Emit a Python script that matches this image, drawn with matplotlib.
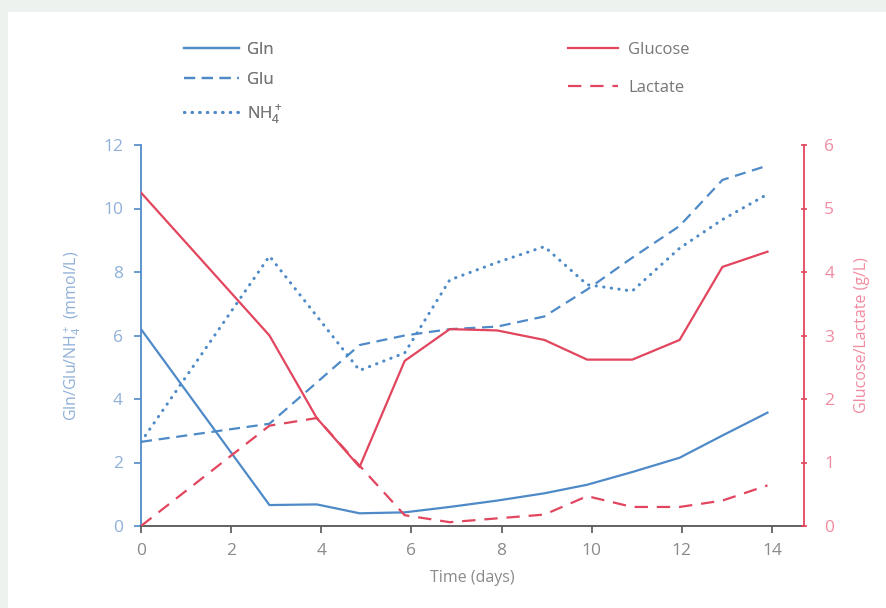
import matplotlib.pyplot as plt
from matplotlib.patches import Rectangle

plt.rcParams['font.family'] = ['Open Sans', 'DejaVu Sans']
plt.rcParams['mathtext.fontset'] = 'custom'
plt.rcParams['mathtext.rm'] = 'Open Sans'

# tempo (dias)
dias = [0, 2.85, 3.9, 4.85, 5.85, 6.85, 7.9, 8.95, 9.9, 10.9, 11.95, 12.9, 13.9]

# eixo esquerdo (mmol/L)
gln = [6.2, 0.66, 0.68, 0.4, 0.43, 0.6, 0.8, 1.03, 1.3, 1.7, 2.15, 2.85, 3.57]
glu = [2.65, 3.22, 4.52, 5.7, 6.0, 6.2, 6.28, 6.6, 7.45, 8.45, 9.45, 10.9, 11.35]
nh4 = [2.65, 8.5, None, 4.9, 5.45, 7.75, 8.3, 8.8, 7.6, 7.4, 8.75, 9.65, 10.45]

# eixo direito (g/L)
glucose = [5.25, 3.0, 1.7, 0.93, 2.6, 3.1, 3.08, 2.93, 2.62, 2.62, 2.93, 4.08, 4.32]
lactato = [0, 1.58, 1.7, 0.95, 0.17, 0.06, 0.12, 0.18, 0.47, 0.3, 0.3, 0.4, 0.64]

xticks = [0, 2, 4, 6, 8, 10, 12, 14]

azul = '#4f8ac8'
vermelho = '#e2455e'
azul_txt = '#8fb0d8'
verm_txt = '#f28ba0'
cinza = '#8a8a8a'

fig = plt.figure(figsize=(8.87, 6.08), dpi=100, facecolor='#eef2ee')
fig.patches.append(Rectangle((8 / 887, 0), 1, 1 - 12 / 608, transform=fig.transFigure,
                             facecolor='white', edgecolor='none', zorder=-5))

ax = fig.add_axes([141 / 887, 1 - 526 / 608, (804 - 141) / 887, (526 - 145) / 608])
ax.set_facecolor('none')
ax2 = ax.twinx()
ax2.set_facecolor('none')

d_nh4 = [d for d, v in zip(dias, nh4) if v is not None]
v_nh4 = [v for v in nh4 if v is not None]

l1, = ax.plot(dias, gln, color=azul, lw=1.6, label='Gln')
l2, = ax.plot(dias, glu, color=azul, lw=1.6, ls=(0, (5, 3)), label='Glu')
l3, = ax.plot(d_nh4, v_nh4, color=azul, lw=2.2, ls=(0, (0.1, 2.4)),
              dash_capstyle='round', label='NH$_4^+$')

l4, = ax2.plot(dias, glucose, color=vermelho, lw=1.6, label='Glucose')
l5, = ax2.plot(dias, lactato, color=vermelho, lw=1.6, ls=(0, (6, 4)), label='Lactate')

ax.set_xlim(0, 14.71)
ax.set_ylim(0, 12)
ax2.set_ylim(0, 6)
ax.set_xticks(xticks)
ax.set_yticks(range(0, 13, 2))
ax2.set_yticks(range(0, 7))

for s in ['top', 'right']:
    ax.spines[s].set_visible(False)
for s in ['top', 'left']:
    ax2.spines[s].set_visible(False)
ax2.spines['bottom'].set_visible(False)
ax.spines['left'].set_color(azul)
ax.spines['bottom'].set_color('#555555')
ax2.spines['right'].set_color(vermelho)
for sp in [ax.spines['left'], ax.spines['bottom'], ax2.spines['right']]:
    sp.set_linewidth(1.3)

ax.tick_params(axis='x', colors='#555555', labelcolor=cinza, labelsize=12.5,
               length=5, width=1.2, pad=7)
ax.tick_params(axis='y', colors=azul, labelcolor=azul_txt, labelsize=12.5,
               length=5, width=1.2, pad=8)
ax2.tick_params(axis='y', colors=vermelho, labelcolor=verm_txt, labelsize=12.5,
                length=5, width=1.2, direction='inout', pad=12)

ax.set_xlabel('Time (days)', color=cinza, fontsize=11.5, labelpad=8)
ax.set_ylabel('Gln/Glu/NH$_4^+$ (mmol/L)', color=azul_txt, fontsize=11.5, labelpad=14)
ax2.set_ylabel('Glucose/Lactate (g/L)', color=verm_txt, fontsize=11.5, labelpad=14)

leg1 = fig.legend(handles=[l1, l2, l3], loc='upper left',
                  bbox_to_anchor=(184 / 887, 1 - 42 / 608), frameon=False,
                  fontsize=12, handlelength=3.3, handletextpad=0.5,
                  labelspacing=0.85, borderpad=0, borderaxespad=0, labelcolor='#777777')
leg2 = fig.legend(handles=[l4, l5], loc='upper left',
                  bbox_to_anchor=(568 / 887, 1 - 42 / 608), frameon=False,
                  fontsize=12, handlelength=3.0, handletextpad=0.6,
                  labelspacing=1.3, borderpad=0, borderaxespad=0, labelcolor='#777777')
fig.add_artist(leg1)

plt.savefig('out.png', dpi=100, facecolor=fig.get_facecolor())
